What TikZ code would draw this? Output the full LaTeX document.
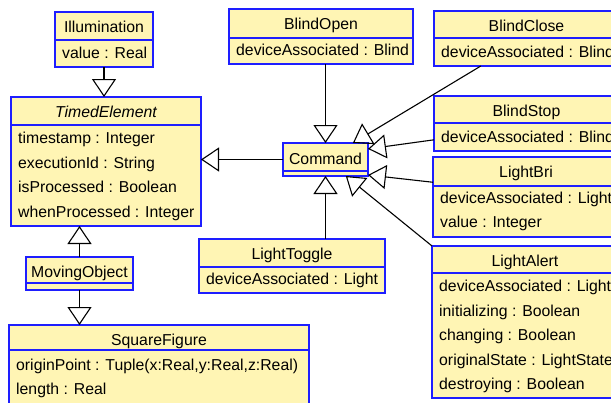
\documentclass[tikz,border=0pt]{standalone}
\usepackage{fontspec}
\setmainfont{Liberation Sans}
\usetikzlibrary{arrows.meta}
\definecolor{clsfill}{RGB}{255,245,180}
\definecolor{clsline}{RGB}{30,30,255}

\begin{document}
\begin{tikzpicture}[x=1pt, y=-1pt, font=\fontsize{15.8}{19}\selectfont,
  cls/.style={draw=clsline, fill=clsfill, line width=1.6pt, inner sep=0pt, outer sep=0pt},
  clssep/.style={draw=clsline, line width=1.6pt},
  title/.style={anchor=base, inner sep=0pt},
  attr/.style={anchor=base west, inner sep=0pt},
  gen/.style={line width=1.1pt, -{Triangle[open, width=24pt, length=18pt]}}]
  \path[use as bounding box, fill=white] (0,0) rectangle (611,402);
  \clip (0,0) rectangle (611,402);

  % left column
  \node [cls, minimum width=98pt, minimum height=55pt] (illum) at (104, 39.5) {};
  \draw [clssep] (55,40) -- (153,40);
  \node [title] (illum-t) at (104, 32.5) {Illumination};
  \node [attr] (illum-a1) at (62, 58) {value : Real};

  \node [cls, minimum width=190pt, minimum height=129pt] (timed) at (106, 161.5) {};
  \draw [clssep] (11,125) -- (201,125);
  \node [title] (timed-t) at (106, 117.5) {\itshape TimedElement};
  \node [attr] (timed-a1) at (18, 143.5) {timestamp : Integer};
  \node [attr] (timed-a2) at (18, 168) {executionId : String};
  \node [attr] (timed-a3) at (18, 192.5) {isProcessed : Boolean};
  \node [attr] (timed-a4) at (18, 217) {whenProcessed : Integer};

  \node [cls, minimum width=107pt, minimum height=33pt] (moving) at (79.5, 273.5) {};
  \draw [clssep] (26,283) -- (133,283);
  \node [title] (moving-t) at (79.5, 277.5) {MovingObject};

  \node [cls, minimum width=300pt, minimum height=80pt] (square) at (159, 365) {};
  \draw [clssep] (9,350) -- (309,350);
  \node [title] (square-t) at (159, 345.5) {SquareFigure};
  \node [attr] (square-a1) at (16, 370) {originPoint : Tuple(x:Real,y:Real,z:Real)};
  \node [attr] (square-a2) at (16, 394.5) {length : Real};

  % commands
  \node [cls, minimum width=184pt, minimum height=55pt] (bopen) at (321, 36.5) {};
  \draw [clssep] (229,38) -- (413,38);
  \node [title] (bopen-t) at (321, 29.5) {BlindOpen};
  \node [attr] (bopen-a1) at (236, 55.5) {deviceAssociated : Blind};

  \node [cls, minimum width=85pt, minimum height=33pt] (cmd) at (325.5, 159.5) {};
  \draw [clssep] (283,171) -- (368,171);
  \node [title] (cmd-t) at (325.5, 164) {Command};

  \node [cls, minimum width=186pt, minimum height=54pt] (ltoggle) at (292, 266) {};
  \draw [clssep] (199,267) -- (385,267);
  \node [title] (ltoggle-t) at (292, 259.5) {LightToggle};
  \node [attr] (ltoggle-a1) at (206, 284.5) {deviceAssociated : Light};

  \node [cls, minimum width=185pt, minimum height=55pt] (bclose) at (526.5, 38.5) {};
  \draw [clssep] (434,38) -- (619,38);
  \node [title] (bclose-t) at (526.5, 31.5) {BlindClose};
  \node [attr] (bclose-a1) at (441, 57) {deviceAssociated : Blind};

  \node [cls, minimum width=185pt, minimum height=55pt] (bstop) at (526.5, 123.5) {};
  \draw [clssep] (434,123) -- (619,123);
  \node [title] (bstop-t) at (526.5, 116.5) {BlindStop};
  \node [attr] (bstop-a1) at (441, 142) {deviceAssociated : Blind};

  \node [cls, minimum width=186pt, minimum height=80pt] (lbri) at (526, 197) {};
  \draw [clssep] (433,186) -- (619,186);
  \node [title] (lbri-t) at (526, 177.5) {LightBri};
  \node [attr] (lbri-a1) at (440, 203) {deviceAssociated : Light};
  \node [attr] (lbri-a2) at (440, 227) {value : Integer};

  \node [cls, minimum width=186pt, minimum height=152pt] (lalert) at (525, 322) {};
  \draw [clssep] (432,273) -- (618,273);
  \node [title] (lalert-t) at (525, 266.5) {LightAlert};
  \node [attr] (lalert-a1) at (439, 291.5) {deviceAssociated : Light};
  \node [attr] (lalert-a2) at (439, 316) {initializing : Boolean};
  \node [attr] (lalert-a3) at (439, 340.5) {changing : Boolean};
  \node [attr] (lalert-a4) at (439, 365) {originalState : LightState};
  \node [attr] (lalert-a5) at (439, 389.5) {destroying : Boolean};

  % generalizations
  \draw [gen] (illum.south) -- (illum.south |- timed.north);
  \draw [gen] (moving.north) -- (moving.north |- timed.south);
  \draw [gen] (moving.south) -- (moving.south |- square.north);
  \draw [gen] (cmd.west) -- (cmd.west -| timed.east);
  \draw [gen] (bopen.south -| cmd.north) -- (cmd.north);
  \draw [gen] (ltoggle.north -| cmd.south) -- (cmd.south);
  \draw [gen] (bclose) -- (cmd);
  \draw [gen] (bstop.190) -- (cmd.14);
  \draw [gen] (lbri.171) -- (cmd.-20);
  \draw [gen] (lalert.north west) -- (cmd);
\end{tikzpicture}
\end{document}
